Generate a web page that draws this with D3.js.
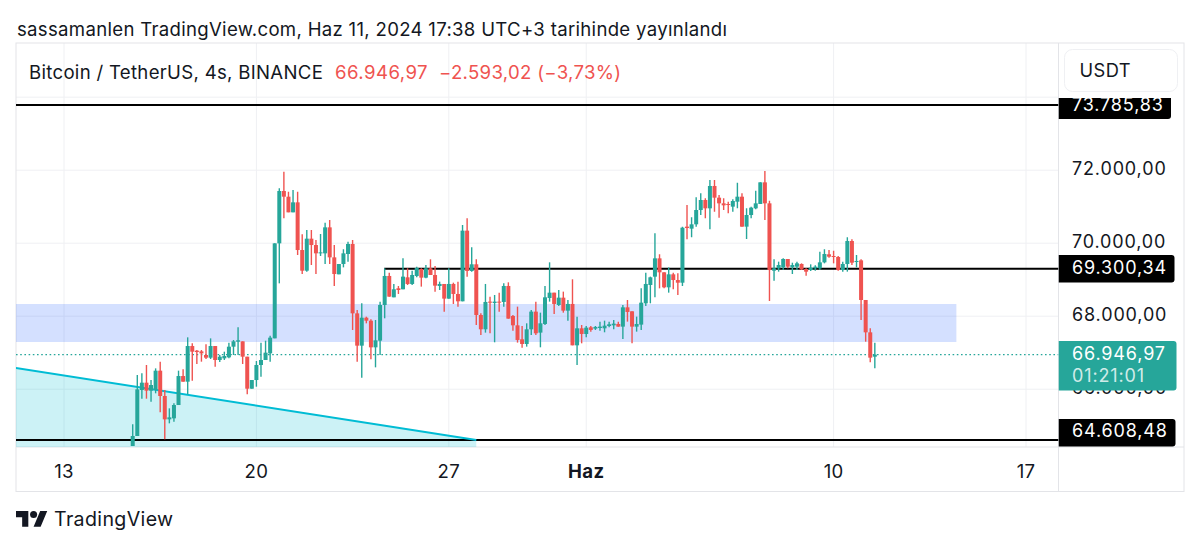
<!DOCTYPE html>
<html>
<head>
<meta charset="utf-8">
<script src="https://cdn.jsdelivr.net/npm/d3@7"></script>
<style>
  html, body { margin: 0; padding: 0; background: #fff; }
  text { font-family: Inter, "Noto Sans", sans-serif; }
</style>
</head>
<body>
<svg id="chart" width="1200" height="548"></svg>
<script>
// candles are 4h bars, index 0 = 13 May 00:00
var firstIndex = 15;
var opens = [
  64444,64718,65978,66179,65960,65978,66508,65814,65174,65202,65567,66361,66206,67183,67055,67037,66937,66864,67183,66800,
  66845,66873,67165,67302,67311,66891,66014,66252,66663,66800,66982,67393,69996,71430,71274,70845,71119,69813,69247,70124,
  69950,69722,69722,70434,69612,69147,69430,69704,69978,68078,67193,67960,67877,67147,67330,68307,69102,68517,68764,68737,
  69065,68883,69102,69294,69056,69312,69129,68828,68883,68481,68883,68609,68408,70344,69239,69422,68033,67641,68399,68362,
  68399,68390,68828,68006,67750,67367,67239,67641,68125,67550,67787,68499,68645,68307,68508,68152,68335,67202,67668,67513,
  67696,67659,67677,67668,67732,67750,67787,67714,68243,68134,67714,67769,68353,68855,69083,69585,69202,68791,69147,68991,
  68918,70453,70398,70517,70909,71183,70955,71567,71247,71092,71074,71001,71137,71274,70453,70772,70955,71074,71667,71092,
  69247,69311,69338,69567,69338,69357,69430,69293,69265,69311,69311,69475,69695,69649,69622,69265,69430,70060,69494,69530,
  68444,67558,66891
];
var highs = [
  65037,66389,66435,66663,66252,66571,66754,65978,65476,65613,66508,66544,67421,67256,67074,67074,67229,67393,67183,66937,
  67028,67275,67348,67695,67311,66891,66252,66772,67275,67329,67466,69996,71503,71959,71411,71457,71411,70243,70361,70361,
  70087,70252,70562,70635,69950,69430,69832,70042,70087,68170,68352,67987,67914,67896,68399,69312,69193,68883,68828,69586,
  69312,69248,69358,69312,69403,69559,69376,68947,68883,69312,68919,68947,70499,70682,69887,69559,68079,68883,68536,68581,
  68645,68901,68928,68033,68262,67732,67805,68170,68399,68097,68828,69476,68645,68718,68673,68444,69011,67988,67759,67732,
  67732,67732,67851,67878,67851,67896,67851,68307,68444,68134,67988,68764,69193,69084,70270,69695,69202,69338,69192,69174,
  70453,71046,70708,71256,71366,71229,71731,71731,71320,71229,71137,71201,71658,71366,70955,71001,71439,71667,71978,71165,
  69558,69494,69585,69567,69466,69494,69448,69311,69421,69393,69768,69832,69813,69795,69649,69494,70160,70106,69676,69558,
  68444,67667,67275
];
var lows = [
  64444,64718,65740,65740,65658,65887,65366,64626,65065,65110,65567,66206,65859,66234,66690,66754,66827,66827,66617,66745,
  66800,66845,66937,66937,66690,65859,66014,66069,66343,66800,66754,67393,68900,70681,70845,70845,69676,69156,69220,69402,
  69156,69649,69430,69430,68827,69147,69338,69494,67622,66754,66316,67804,66818,66599,66938,67942,68536,68517,68609,68737,
  68855,68855,69065,68810,69038,69129,68673,68718,68125,68481,68335,68262,68408,69084,69221,67759,67486,67550,67531,67285,
  68125,68262,67933,67604,67276,67139,67166,67486,67486,67148,67759,68399,68061,68280,68097,67878,67202,66664,67257,67422,
  67577,67623,67604,67559,67696,67641,67714,67376,67851,67257,67577,67623,68280,68353,68517,68763,68763,68645,68736,68581,
  68827,70106,70160,70453,70772,70681,70380,70864,70699,70909,70818,70864,70955,70453,70115,70681,70927,71074,70635,68416,
  68973,69220,69265,69311,69156,69265,69265,69110,69238,69247,69265,69448,69603,69448,69247,69220,69220,69402,69338,67896,
  67302,66736,66571
];
var closes = [
  64718,65996,66179,65960,66115,66508,65814,65174,65229,65567,66361,66206,67183,67028,67019,66982,66864,67183,66800,66891,
  66909,67165,67311,67339,66891,66014,66252,66663,66800,67001,67412,69996,71430,71274,70845,71119,69813,69247,70124,69950,
  69722,69749,70434,69612,69156,69430,69722,69978,68078,67193,67960,67877,67147,67339,68307,69102,68536,68737,68718,69084,
  68883,69129,69321,69056,69312,69129,68837,68883,68481,68883,68609,68408,70344,69239,69422,68033,67641,68390,68371,68399,
  68371,68828,67933,67750,67349,67239,67641,68125,67531,67805,68517,68645,68335,68508,68152,68335,67202,67668,67513,67686,
  67623,67705,67714,67741,67778,67796,67714,68243,68116,67714,67787,68371,68883,69065,69585,69202,68791,69147,68991,68918,
  70425,70416,70517,70909,71183,70955,71567,71247,71092,71037,71046,71156,71274,70453,70772,70973,71092,71667,71092,69265,
  69311,69402,69567,69357,69402,69448,69284,69220,69329,69357,69475,69704,69631,69622,69265,69430,70060,69466,69512,68444,
  67558,66864,66947
];

var priceTicks = [66000, 68000, 70000, 72000];
var priceTickLabels = ["66.000,00", "68.000,00", "70.000,00", "72.000,00"];
var gridPrices = [66000, 68000, 70000, 72000, 74000];
var timeTicks = [0, 42, 84, 114, 168, 210];
var timeTickLabels = ["13", "20", "27", "Haz", "10", "17"];

var topLevel = 73785.83;
var midLevel = 69300.34;
var bottomLevel = 64608.48;
var lastPrice = 66946.97;
var midLevelStart = 69.9;

var zonePrices = [67293, 68334];
var zoneIndexes = [-20, 194.8];
var trendIndexes = [-10.5, 90];
var trendPrices = [66581, 64608.48];
var trendFloor = 64400;

var colorUp = "#26a69a", colorDown = "#ef5350", ink = "#131722", gridColor = "#eff0f3", frameColor = "#e3e4e8";

var svg = d3.select("#chart");

// pane edges
var paneLeft = 16, paneRight = 1058.5, paneTop = 98, paneBottom = 447, frameTop = 43, frameBottom = 491.5, frameRight = 1184;

var x = d3.scaleLinear().domain([0, 210]).range([64, 1026]);
var y = d3.scaleLinear().domain([bottomLevel, topLevel]).range([440, 105]);

svg.append("defs").append("clipPath").attr("id", "pane")
   .append("rect").attr("x", paneLeft).attr("y", paneTop).attr("width", paneRight - paneLeft).attr("height", paneBottom - paneTop);
svg.select("defs").append("clipPath").attr("id", "axisClip")
   .append("rect").attr("x", paneRight).attr("y", paneTop).attr("width", frameRight - paneRight).attr("height", paneBottom - paneTop);

function label(parent, tx, ty, str, size, fill, anchor, weight) {
   return parent.append("text")
      .attr("x", tx).attr("y", ty)
      .attr("font-size", size)
      .attr("fill", fill)
      .attr("text-anchor", anchor || "start")
      .attr("font-weight", weight || 400)
      .attr("letter-spacing", 0.3)
      .text(str);
}

// title over the frame
label(svg, 17, 35.5, "sassamanlen TradingView.com, Haz 11, 2024 17:38 UTC+3 tarihinde yayınlandı", 18.6, ink);

// grid
var grid = svg.append("g");
grid.selectAll("line.v").data(timeTicks).enter().append("line").attr("class", "v")
   .attr("x1", d => x(d)).attr("x2", d => x(d))
   .attr("y1", frameTop).attr("y2", paneBottom)
   .attr("stroke", gridColor).attr("stroke-width", 1);
grid.selectAll("line.h").data(gridPrices).enter().append("line").attr("class", "h")
   .attr("x1", paneLeft).attr("x2", paneRight)
   .attr("y1", d => y(d)).attr("y2", d => y(d))
   .attr("stroke", gridColor).attr("stroke-width", 1);

// frame
var frame = svg.append("g").attr("fill", "none").attr("stroke", frameColor).attr("stroke-width", 1);
frame.append("rect").attr("x", paneLeft).attr("y", frameTop).attr("width", frameRight - paneLeft).attr("height", frameBottom - frameTop);
frame.append("line").attr("x1", paneRight).attr("x2", paneRight).attr("y1", frameTop).attr("y2", frameBottom);
frame.append("line").attr("x1", paneLeft).attr("x2", frameRight).attr("y1", paneBottom).attr("y2", paneBottom);

var pane = svg.append("g").attr("clip-path", "url(#pane)");

// demand zone
pane.append("rect")
   .attr("x", x(zoneIndexes[0])).attr("width", x(zoneIndexes[1]) - x(zoneIndexes[0]))
   .attr("y", y(zonePrices[1])).attr("height", y(zonePrices[0]) - y(zonePrices[1]))
   .attr("fill", "rgba(41,98,255,0.2)");

// falling wedge
var wedge = d3.line().x(d => x(d[0])).y(d => y(d[1]));
pane.append("path")
   .attr("d", wedge([
      [trendIndexes[0], trendPrices[0]],
      [trendIndexes[1], trendPrices[1]],
      [trendIndexes[1], trendFloor],
      [trendIndexes[0], trendFloor]
   ]) + "Z")
   .attr("fill", "rgba(0,188,212,0.2)");

// horizontal levels
pane.selectAll("line.level").data([topLevel, bottomLevel]).enter().append("line").attr("class", "level")
   .attr("x1", paneLeft).attr("x2", paneRight)
   .attr("y1", d => y(d)).attr("y2", d => y(d))
   .attr("stroke", "#000").attr("stroke-width", 2);
pane.append("line")
   .attr("x1", x(midLevelStart)).attr("x2", paneRight)
   .attr("y1", y(midLevel)).attr("y2", y(midLevel))
   .attr("stroke", "#000").attr("stroke-width", 2);

pane.append("line")
   .attr("x1", x(trendIndexes[0])).attr("x2", x(trendIndexes[1]))
   .attr("y1", y(trendPrices[0])).attr("y2", y(trendPrices[1]))
   .attr("stroke", "#00bcd4").attr("stroke-width", 2);

// last price
pane.append("line")
   .attr("x1", paneLeft).attr("x2", paneRight)
   .attr("y1", y(lastPrice)).attr("y2", y(lastPrice))
   .attr("stroke", colorUp).attr("stroke-width", 1.3).attr("stroke-dasharray", "1.6 2.6");

// candles
var candles = d3.range(opens.length);
var candleColor = i => closes[i] >= opens[i] ? colorUp : colorDown;
var cx = i => x(firstIndex + i);

pane.selectAll("line.wick").data(candles).enter().append("line").attr("class", "wick")
   .attr("x1", cx).attr("x2", cx)
   .attr("y1", i => y(highs[i])).attr("y2", i => y(lows[i]))
   .attr("stroke", candleColor).attr("stroke-width", 1.4);
pane.selectAll("rect.body").data(candles).enter().append("rect").attr("class", "body")
   .attr("x", i => cx(i) - 2).attr("width", 4)
   .attr("y", i => y(Math.max(opens[i], closes[i])))
   .attr("height", i => Math.max(1, Math.abs(y(opens[i]) - y(closes[i]))))
   .attr("fill", candleColor);

// price axis
var axisFont = 18, axisTrack = 0.85;
var axisG = svg.append("g").attr("clip-path", "url(#axisClip)");
priceTicks.forEach(function(p, i) {
   label(axisG, 1072, y(p) + 4.5, priceTickLabels[i], axisFont, ink).attr("letter-spacing", axisTrack);
});

function priceTag(top, bottom, right, fill) {
   axisG.append("path")
      .attr("d", "M" + paneRight + "," + top + "H" + (right - 3) + "Q" + right + "," + top + " " + right + "," + (top + 3) +
                 "V" + (bottom - 3) + "Q" + right + "," + bottom + " " + (right - 3) + "," + bottom + "H" + paneRight + "Z")
      .attr("fill", fill);
}
priceTag(91, 119, 1171, "#000");
label(axisG, 1072, 110.5, "73.785,83", axisFont, "#fff").attr("letter-spacing", axisTrack);
priceTag(255, 282.5, 1174.5, "#000");
label(axisG, 1072, 273.5, "69.300,34", axisFont, "#fff").attr("letter-spacing", axisTrack);
priceTag(419, 446.5, 1175.5, "#000");
label(axisG, 1072, 437.3, "64.608,48", axisFont, "#fff").attr("letter-spacing", axisTrack);
priceTag(341, 390.5, 1176.5, colorUp);
label(axisG, 1072, 360, "66.946,97", axisFont, "#fff").attr("letter-spacing", axisTrack);
label(axisG, 1072, 381.7, "01:21:01", axisFont, "#fff").attr("letter-spacing", axisTrack).attr("fill-opacity", 0.8);

// time axis
timeTicks.forEach(function(t, i) {
   label(svg, x(t), 477.5, timeTickLabels[i], 18.6, ink, "middle", timeTickLabels[i] === "Haz" ? 700 : 400);
});

// header legend
label(svg, 29, 79, "Bitcoin / TetherUS, 4s, BINANCE", 18.6, ink);
label(svg, 335, 79, "66.946,97", 18.6, colorDown).attr("letter-spacing", 0.45);
label(svg, 439, 79, "\u22122.593,02 (\u22123,73%)", 18.6, colorDown);

// currency button
svg.append("rect").attr("x", 1064.5).attr("y", 49.5).attr("width", 113).attr("height", 42).attr("rx", 8)
   .attr("fill", "#fff").attr("stroke", gridColor).attr("stroke-width", 1);
label(svg, 1079.5, 77, "USDT", 18.3, ink).attr("letter-spacing", 0.4);

// footer logo and name
var logo = svg.append("g").attr("transform", "translate(16,507.5) scale(0.88)").attr("fill", ink);
logo.append("path").attr("d", "M14 22H7V11H0V4h14v18zM28 22h-8l7.5-18h8L28 22z");
logo.append("circle").attr("cx", 20).attr("cy", 8).attr("r", 4);
label(svg, 54, 525.5, "TradingView", 19.6, ink).attr("letter-spacing", 0.35);
</script>
</body>
</html>
